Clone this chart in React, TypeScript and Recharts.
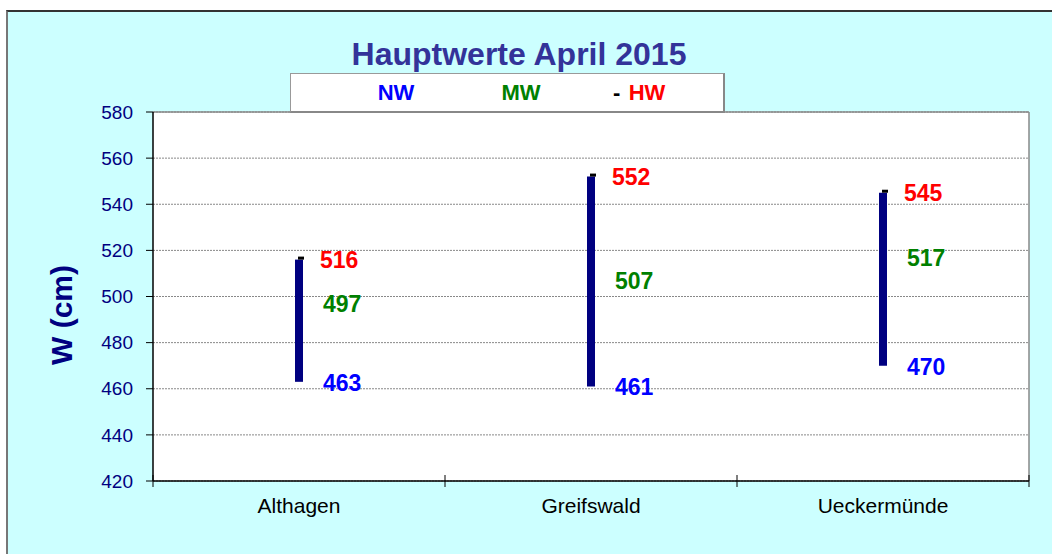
import React from 'react';
import { ComposedChart, Bar, Scatter, XAxis, YAxis, CartesianGrid, ReferenceLine } from 'recharts';

const categories = ['Althagen', 'Greifswald', 'Ueckermünde'];
const nwValues = [463, 461, 470];
const mwValues = [497, 507, 517];
const hwValues = [516, 552, 545];
const yTicks = [420, 440, 460, 480, 500, 520, 540, 560, 580];

const data = categories.map((name, i) => ({
  name,
  range: [nwValues[i], hwValues[i]],
  nw: nwValues[i],
  mw: mwValues[i],
  hw: hwValues[i],
}));

const FONT = '"Liberation Sans", Arial, sans-serif';

const HwShape = (p: any) => (
  <g>
    <rect x={p.cx - 1} y={p.cy - 3} width={6} height={3} fill="#000" />
    <text x={p.cx + 21} y={p.cy + 8} fill="#FF0000" fontSize={23} fontWeight="bold" fontFamily={FONT}>
      {p.payload.hw}
    </text>
  </g>
);
const MwShape = (p: any) => (
  <text x={p.cx + 24} y={p.cy + 9} fill="#008000" fontSize={23} fontWeight="bold" fontFamily={FONT}>
    {p.payload.mw}
  </text>
);
const NwShape = (p: any) => (
  <text x={p.cx + 24} y={p.cy + 9} fill="#0000FF" fontSize={23} fontWeight="bold" fontFamily={FONT}>
    {p.payload.nw}
  </text>
);

const XTick = (p: any) => (
  <text x={p.x} y={p.y + 32} textAnchor="middle" fill="#000" fontSize={21} fontFamily={FONT}>
    {p.payload.value}
  </text>
);

const lastCat = categories[categories.length - 1];

export default function App() {
  return (
    <div style={{ position: 'absolute', left: 0, top: 0, width: 1052, height: 554, overflow: 'hidden', background: '#fff', fontFamily: FONT }}>
      <div
        style={{
          position: 'absolute',
          left: 6,
          top: 10,
          width: 1100,
          height: 600,
          background: '#CCFFFF',
          borderTop: '2px solid #333',
          borderLeft: '2px solid #777',
        }}
      />
      <div style={{ position: 'absolute', left: 0, top: 0 }}>
        <ComposedChart width={1052} height={554} data={data} margin={{ top: 112, right: 23, left: 0, bottom: 0 }}>
          <CartesianGrid vertical={false} fill="#fff" stroke="#888" strokeDasharray="2 1" />
          <XAxis dataKey="name" height={73} tickLine={false} axisLine={false} tickSize={0} tickMargin={0} tick={<XTick />} />
          <YAxis
            width={153}
            domain={[420, 580]}
            ticks={yTicks}
            tickSize={7}
            tickMargin={13}
            tickLine={{ stroke: '#000' }}
            axisLine={{ stroke: '#000', strokeWidth: 1.5 }}
            tick={{ fill: '#000080', fontSize: 19, fontFamily: FONT }}
            allowDataOverflow
          />
          <ReferenceLine y={580} stroke="#888" strokeWidth={1.5} />
          <ReferenceLine x={lastCat} position="end" stroke="#888" strokeWidth={1.5} />
          <ReferenceLine y={420} stroke="#000" strokeWidth={1.5} />
          {categories.map((c) => (
            <ReferenceLine
              key={c}
              ifOverflow="visible"
              position="start"
              stroke="#000"
              segment={[{ x: c, y: 417.4 }, { x: c, y: 422.6 }]}
            />
          ))}
          <ReferenceLine
            ifOverflow="visible"
            position="end"
            stroke="#000"
            segment={[{ x: lastCat, y: 417.4 }, { x: lastCat, y: 422.6 }]}
          />
          <Bar dataKey="range" barSize={8} fill="#000080" isAnimationActive={false} />
          <Scatter dataKey="hw" shape={HwShape} isAnimationActive={false} />
          <Scatter dataKey="mw" shape={MwShape} isAnimationActive={false} />
          <Scatter dataKey="nw" shape={NwShape} isAnimationActive={false} />
        </ComposedChart>
      </div>
      <svg style={{ position: 'absolute', left: 0, top: 0 }} width={1052} height={554}>
        <text x={519} y={65} textAnchor="middle" fill="#333399" fontSize={32} fontWeight="bold" fontFamily={FONT}>
          Hauptwerte April 2015
        </text>
        <text
          x={72}
          y={315}
          textAnchor="middle"
          fill="#000080"
          fontSize={30}
          fontWeight="bold"
          fontFamily={FONT}
          transform="rotate(-90, 72, 315)"
        >
          W (cm)
        </text>
      </svg>
      <div
        style={{
          position: 'absolute',
          left: 290,
          top: 73,
          width: 432,
          height: 37,
          background: '#fff',
          border: '1px solid #999',
          borderRight: '2px solid #888',
          borderBottom: '2px solid #888',
        }}
      />
      <svg style={{ position: 'absolute', left: 0, top: 0 }} width={1052} height={554}>
        <text x={396} y={100} textAnchor="middle" fill="#0000FF" fontSize={22} fontWeight="bold" fontFamily={FONT}>NW</text>
        <text x={521} y={100} textAnchor="middle" fill="#008000" fontSize={22} fontWeight="bold" fontFamily={FONT}>MW</text>
        <text x={613} y={100} fill="#000" fontSize={22} fontWeight="bold" fontFamily={FONT}>-</text>
        <text x={647} y={100} textAnchor="middle" fill="#FF0000" fontSize={22} fontWeight="bold" fontFamily={FONT}>HW</text>
      </svg>
    </div>
  );
}
